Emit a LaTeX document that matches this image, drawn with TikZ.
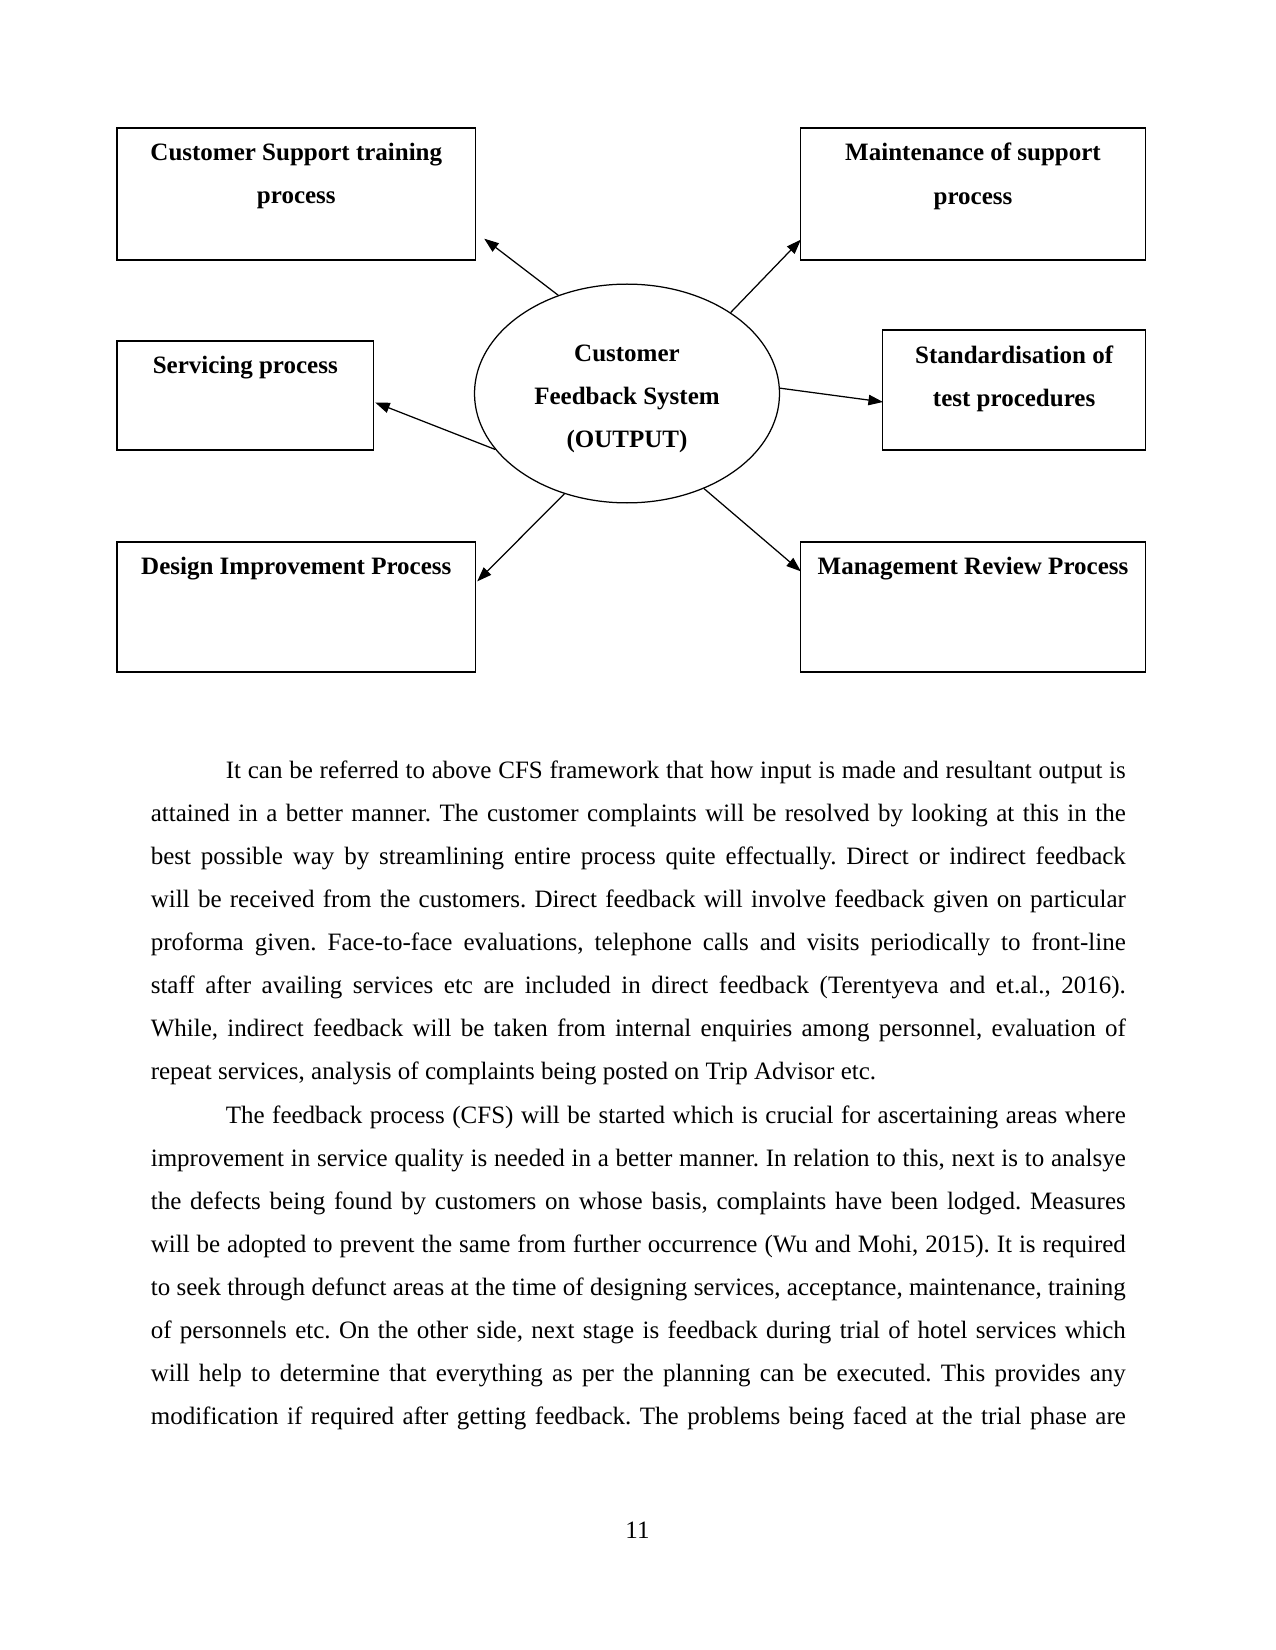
\documentclass[tikz,border=0pt]{standalone}
\usepackage{fontspec}
\setmainfont{Liberation Serif}
\usepackage{xcolor}
\usepackage{tikz}
\usetikzlibrary{shapes.geometric, positioning, arrows.meta}
\frenchspacing
\tikzstyle{procbox} = [rectangle, draw=black, line width=0.6pt, inner sep=0pt]
\tikzstyle{boxtitle} = [align=center, inner sep=0pt, font=\fontsize{12pt}{20.7pt}\selectfont\bfseries]
\tikzstyle{cfsnode} = [ellipse, draw=black, line width=0.6pt, minimum width=146.4pt, minimum height=105pt]
\tikzstyle{outarrow} = [line width=0.6pt, -{Triangle[length=7pt,width=5pt]}]
\tikzstyle{bodytext} = [text width=468pt, align=justify, inner sep=0pt, font=\fontsize{12pt}{20.7pt}\selectfont]

\begin{document}
\begin{tikzpicture}[x=0.48pt,y=-0.48pt]
\useasboundingbox (0,0) rectangle (1275,1650);

% framework
\node[cfsnode] (cfs) at (627,393.5) {};
\node[boxtitle] (cfs-t) at ([yshift=-2.5pt]cfs.center) {Customer\\Feedback System\\(OUTPUT)};

\node[procbox, minimum width=172.1pt, minimum height=63.4pt] (cst) at (296.3,194) {};
\node[procbox, minimum width=165.6pt, minimum height=63.4pt] (msp) at (973,194) {};
\node[procbox, minimum width=123.1pt, minimum height=52.3pt] (svp) at (245.3,395.5) {};
\node[procbox, minimum width=126.2pt, minimum height=57.6pt] (stp) at (1014.1,390) {};
\node[procbox, minimum width=172.1pt, minimum height=62.4pt] (dip) at (296.3,607) {};
\node[procbox, minimum width=165.6pt, minimum height=62.4pt] (mrp) at (973,607) {};

\node[boxtitle, below=7.5pt of cst.north] (cst-t) {Customer Support training\\process};
\node[boxtitle, below=7.5pt of msp.north] (msp-t) {Maintenance of support\\process};
\node[boxtitle, below=7.5pt of svp.north] (svp-t) {Servicing process};
\node[boxtitle, below=7.5pt of stp.north] (stp-t) {Standardisation of\\test procedures};
\node[boxtitle, below=7.5pt of dip.north] (dip-t) {Design Improvement Process};
\node[boxtitle, below=7.5pt of mrp.north] (mrp-t) {Management Review Process};

\draw[outarrow] (cfs.125) -- ([shift={(8,-22)}]cst.south east);
\draw[outarrow] (cfs.38) -- ([shift={(1,-21)}]msp.south west);
\draw[outarrow] (cfs.2) -- ([shift={(1,12)}]stp.west);
\draw[outarrow] (cfs.203) -- ([shift={(1,7)}]svp.east);
\draw[outarrow] (cfs.238) -- ([shift={(1,40)}]dip.north east);
\draw[outarrow] (cfs.309) -- ([shift={(1,30)}]mrp.north west);

% text of the page
\node[bodytext, anchor=north west] (para) at (150.4,760) {%
\noindent\hspace*{36pt}It can be referred to above CFS framework that how input is made and resultant output is\linebreak
attained in a better manner. The customer complaints will be resolved by looking at this in the\linebreak
best possible way by streamlining entire process quite effectually. Direct or indirect feedback\linebreak
will be received from the customers. Direct feedback will involve feedback given on particular\linebreak
proforma given. Face-to-face evaluations, telephone calls and visits periodically to front-line\linebreak
staff after availing services etc are included in direct feedback (Terentyeva and et.al., 2016).\linebreak
While, indirect feedback will be taken from internal enquiries among personnel, evaluation of\linebreak
repeat services, analysis of complaints being posted on Trip Advisor etc.\par
\noindent\hspace*{36pt}The feedback process (CFS) will be started which is crucial for ascertaining areas where\linebreak
improvement in service quality is needed in a better manner. In relation to this, next is to analsye\linebreak
the defects being found by customers on whose basis, complaints have been lodged. Measures\linebreak
will be adopted to prevent the same from further occurrence (Wu and Mohi, 2015). It is required\linebreak
to seek through defunct areas at the time of designing services, acceptance, maintenance, training\linebreak
of personnels etc. On the other side, next stage is feedback during trial of hotel services which\linebreak
will help to determine that everything as per the planning can be executed. This provides any\linebreak
modification if required after getting feedback. The problems being faced at the trial phase are\parfillskip=0pt\par};

\node[anchor=base, inner sep=0pt, font=\fontsize{12pt}{20.7pt}\selectfont] (pgno) at (637.5,1538) {11};
\end{tikzpicture}
\end{document}
